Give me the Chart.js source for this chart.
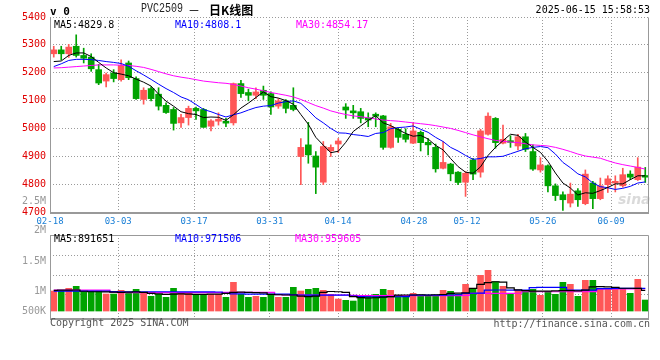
<!DOCTYPE html>
<html><head><meta charset="utf-8">
<script src="https://cdn.jsdelivr.net/npm/chart.js@4.4.1/dist/chart.umd.min.js"></script>
<style>
html,body{margin:0;padding:0;background:#fff;width:660px;height:360px;overflow:hidden;}
#wrap{position:relative;width:660px;height:360px;background:#fff;}
canvas{position:absolute;left:0;}
#c1{top:0;}
#c2{top:232px;}
.t{position:absolute;white-space:pre;font-family:"DejaVu Sans Mono",monospace;font-size:10px;line-height:10px;}
.r{text-align:right;}
</style></head><body>
<div id="wrap">
<canvas id="c1" width="660" height="232"></canvas>
<canvas id="c2" width="660" height="88"></canvas>
<div class="t" style="left:50px;top:6px;font-size:11px;font-weight:bold;line-height:11px;">v 0</div>
<div class="t" style="left:141px;top:3px;font-family:'Liberation Mono',monospace;font-size:10px;line-height:10px;color:#222;transform:scaleY(1.3);transform-origin:0 0;">PVC2509</div>
<div class="t" style="left:188px;top:3px;font-family:'Noto Sans CJK SC',sans-serif;font-size:12px;line-height:13px;">－</div>
<div class="t" style="left:209px;top:3px;font-family:'Noto Sans CJK SC',sans-serif;font-size:12px;line-height:13px;font-weight:bold;">日K线图</div>
<div class="t r" style="right:10px;top:5px;">2025-06-15 15:58:53</div>
<div class="t" style="left:54px;top:20px;color:#000;">MA5:4829.8</div>
<div class="t" style="left:175px;top:20px;color:#0000ff;">MA10:4808.1</div>
<div class="t" style="left:296px;top:20px;color:#ff00ff;">MA30:4854.17</div>
<div class="t" style="left:54px;top:234px;color:#000;">MA5:891651</div>
<div class="t" style="left:175px;top:234px;color:#0000ff;">MA10:971506</div>
<div class="t" style="left:295px;top:234px;color:#ff00ff;">MA30:959605</div>
<div class="t r" style="right:614px;top:196px;color:#999;">2.5M</div>
<div class="t r" style="right:614px;top:225px;color:#999;">2M</div>
<div class="t r" style="right:614px;top:256px;color:#999;">1.5M</div>
<div class="t r" style="right:614px;top:286px;color:#999;">1M</div>
<div class="t r" style="right:614px;top:306px;color:#999;">500K</div>
<div class="t" style="left:50px;top:318px;color:#555;">Copyright 2025 SINA.COM</div>
<div class="t r" style="right:10px;top:319px;color:#555;">http://finance.sina.com.cn</div>
<div class="t" style="left:618px;top:192px;font-family:'DejaVu Sans',sans-serif;font-size:14px;line-height:14px;font-style:italic;font-weight:bold;color:rgba(150,150,150,0.35);">sina</div>
</div>
<script>
// ---- data ----
const dateLabels = ['02-18','03-03','03-17','03-31','04-14','04-28','05-12','05-26','06-09'];
const dateIndex  = [0,9,19,29,38,48,55,65,74];
const open  = [5268,5282,5268,5295,5262,5256,5211,5170,5199,5175,5235,5179,5104,5143,5123,5083,5068,5020,5039,5072,
               5068,5008,5026,5026,5020,5161,5129,5119,5137,5125,5080,5099,5083,4899,4941,4901,4807,4920,4944,5077,
               5063,5060,5038,5051,5045,4932,4997,4979,4947,4986,4950,4932,4857,4872,4843,4807,4887,4843,4979,5036,
               4947,4956,4937,4970,4917,4851,4866,4794,4762,4732,4776,4730,4804,4748,4798,4804,4794,4836,4816,4831];
const high  = [5295,5295,5302,5336,5288,5268,5230,5199,5211,5246,5242,5185,5146,5149,5146,5092,5075,5051,5080,5077,
               5072,5032,5056,5036,5163,5173,5141,5146,5152,5131,5107,5104,5146,4964,5022,4917,4953,4941,4964,5089,
               5083,5072,5056,5056,5047,5018,5002,4999,5020,4991,4964,4944,4953,4875,4845,4845,4893,4997,5056,5039,
               5012,4974,4979,4982,4941,4895,4869,4801,4772,4804,4784,4851,4810,4822,4830,4830,4857,4848,4895,4860];
const low   = [5256,5246,5255,5256,5235,5205,5157,5149,5167,5170,5175,5104,5087,5099,5066,5054,4994,5004,5012,5032,
               5004,4991,5012,5006,5012,5111,5099,5107,5104,5050,5072,5056,5063,4798,4875,4766,4798,4899,4913,5036,
               5036,5020,5006,5006,4925,4929,4950,4951,4945,4919,4905,4843,4855,4812,4798,4756,4816,4825,4976,4929,
               4944,4932,4923,4917,4849,4843,4772,4741,4706,4718,4720,4726,4712,4744,4770,4772,4789,4816,4813,4806];
const close = [5282,5268,5292,5262,5252,5214,5163,5193,5179,5226,5182,5107,5137,5107,5080,5057,5018,5039,5072,5063,
               5004,5027,5033,5019,5161,5125,5119,5131,5119,5077,5099,5072,5068,4932,4905,4861,4935,4932,4955,5066,
               5056,5036,5030,5044,4932,5006,4968,4961,4991,4949,4941,4855,4878,4837,4806,4839,4836,4991,5044,4949,
               4961,4950,4970,4925,4854,4869,4794,4759,4744,4764,4744,4836,4748,4794,4819,4810,4834,4825,4861,4825];
const ma5   = [5240,5242,5262,5271,5271,5258,5237,5217,5200,5195,5189,5177,5166,5152,5123,5098,5080,5060,5053,5050,
               5039,5041,5040,5029,5049,5073,5091,5111,5131,5114,5109,5100,5087,5050,5015,4968,4940,4913,4918,4950,
               4989,5009,5029,5046,5020,5010,4996,4982,4972,4975,4962,4939,4923,4892,4863,4843,4839,4862,4903,4932,
               4956,4979,4975,4951,4932,4914,4882,4840,4804,4786,4761,4769,4767,4777,4788,4801,4801,4816,4830,4830];
const ma10  = [5222,5232,5244,5248,5248,5247,5244,5240,5237,5233,5223,5207,5192,5176,5159,5143,5129,5113,5103,5086,
               5068,5060,5050,5041,5049,5056,5066,5075,5080,5082,5091,5096,5099,5090,5065,5038,5020,5000,4984,4983,
               4978,4975,4971,4982,4985,4999,5003,5005,5009,4997,4986,4968,4953,4932,4919,4903,4889,4892,4898,4898,
               4900,4909,4918,4927,4932,4935,4931,4908,4878,4859,4837,4826,4804,4791,4787,4781,4785,4792,4804,4808];
const ma30  = [5217,5218,5220,5222,5224,5226,5228,5228,5228,5227,5226,5223,5219,5212,5204,5196,5189,5184,5180,5175,
               5170,5167,5164,5162,5158,5152,5146,5141,5135,5129,5124,5119,5113,5104,5093,5082,5073,5063,5056,5050,
               5045,5042,5038,5034,5030,5028,5026,5023,5020,5017,5014,5010,5005,5000,4993,4985,4977,4970,4963,4957,
               4954,4951,4949,4945,4941,4939,4937,4932,4925,4917,4908,4901,4897,4893,4884,4876,4870,4865,4860,4854];
const volume = [860,860,976,1062,817,860,860,731,731,890,804,933,804,632,718,589,976,804,804,718,
                718,718,718,589,1234,718,589,632,589,718,589,589,1019,860,933,976,890,718,516,460,
                430,645,645,718,933,890,645,645,761,645,645,645,890,847,718,1148,976,1535,1750,1260,
                1062,718,890,890,933,675,847,718,1234,1148,632,1320,1320,976,933,976,933,761,1363,473].map(v=>v*1000);
const volMa5 = [890,895,900,905,850,830,830,820,810,800,810,820,800,760,740,720,730,740,730,720,
                720,730,730,760,800,810,800,790,780,720,700,690,690,640,620,640,800,840,830,800,
                620,580,560,570,600,620,680,690,690,700,690,700,710,760,770,780,976,1150,1220,1260,
                1240,1000,910,880,860,860,860,870,880,880,870,900,1040,1050,1040,1020,980,980,970,892].map(v=>v*1000);
const volMa10 = [860,860,860,860,860,860,860,855,835,830,830,830,830,830,830,828,828,826,826,824,
                 822,820,818,760,740,735,731,731,731,731,731,725,700,690,688,688,688,688,688,688,
                 640,620,615,615,615,615,615,620,680,688,688,688,688,690,700,760,765,770,900,905,
                 905,903,903,903,1010,1019,1019,1019,1019,905,903,903,903,960,965,970,970,972,972,972].map(v=>v*1000);
const volMa30 = [900,900,900,900,900,900,900,895,800,795,790,790,790,790,790,790,790,790,790,790,
                 790,790,790,800,800,800,800,800,800,800,700,690,690,690,690,690,690,690,690,690,
                 670,665,665,665,665,665,665,665,665,665,665,665,665,665,665,670,760,760,760,760,
                 760,760,765,830,830,830,830,830,830,830,830,830,835,945,948,950,952,955,958,960].map(v=>v*1000);

// ---- styling ----
const UP = '#ff5757', DOWN = '#00a300', GRID = '#9a9a9a', FRAME = '#999999';
const MONO = "'DejaVu Sans Mono', monospace";
const labels = close.map((_, i) => String(i));
const candleColor = close.map((c, i) => c >= open[i] ? UP : DOWN);

function framePlugin(id, opts) {
  return {
    id: id,
    afterDraw(chart) {
      const {ctx, chartArea: a} = chart;
      ctx.save();
      ctx.strokeStyle = FRAME;
      ctx.lineWidth = 1;
      ctx.beginPath();
      const L = Math.round(a.left) + 0.5, R = Math.round(a.right) - 0.5;
      const T = Math.round(a.top) + 0.5, B = Math.round(a.bottom) + 0.5;
      ctx.moveTo(L, T); ctx.lineTo(L, B + 1);
      ctx.moveTo(R, T); ctx.lineTo(R, B + 1);
      if (opts.top) { ctx.moveTo(L, T); ctx.lineTo(R, T); }
      ctx.stroke();
      ctx.lineWidth = opts.bottomWidth;
      ctx.beginPath();
      ctx.moveTo(L - 0.5, B + (opts.bottomWidth - 1) / 2); ctx.lineTo(R + 0.5, B + (opts.bottomWidth - 1) / 2);
      ctx.stroke();
      ctx.restore();
    }
  };
}

function gridAxis(showLabels) {
  return {
    type: 'linear', position: 'bottom', min: 0, max: close.length - 1,
    offset: false,
    afterBuildTicks(s) { s.ticks = dateIndex.map(v => ({value: v})); },
    ticks: {
      display: showLabels, autoSkip: false, maxRotation: 0, padding: 4,
      color: '#1a7fd6', font: {family: MONO, size: 9},
      callback: (v) => dateLabels[dateIndex.indexOf(v)]
    },
    grid: {color: GRID, lineWidth: 1, drawTicks: false, offset: false},
    border: {display: false, dash: [1, 2]},
    afterFit(s) { s.height = showLabels ? 20 : 0; }
  };
}

Chart.defaults.font.family = MONO;

new Chart(document.getElementById('c1'), {
  type: 'bar',
  data: {
    labels: labels,
    datasets: [
      {type: 'line', data: ma5,  borderColor: '#000000', borderWidth: 1, pointRadius: 0, tension: 0, order: 0},
      {type: 'line', data: ma10, borderColor: '#0000ff', borderWidth: 1, pointRadius: 0, tension: 0, order: 0},
      {type: 'line', data: ma30, borderColor: '#ff00ff', borderWidth: 1, pointRadius: 0, tension: 0, order: 0},
      {type: 'bar', data: open.map((o, i) => [o, close[i]]), backgroundColor: candleColor,
       barThickness: 6, grouped: false, minBarLength: 1, order: 1},
      {type: 'bar', data: low.map((l, i) => [l, high[i]]), backgroundColor: candleColor,
       barThickness: 1, grouped: false, order: 2}
    ]
  },
  options: {
    responsive: false, animation: false, events: [],
    plugins: {legend: {display: false}, tooltip: {enabled: false}},
    layout: {padding: {top: 17, right: 11, left: 0, bottom: 0}},
    scales: {
      x: {type: 'category', display: false, offset: true},
      xg: gridAxis(true),
      y: {
        min: 4700, max: 5400, position: 'left',
        ticks: {stepSize: 100, color: '#e00000', font: {family: MONO, size: 10}, padding: 4,
                callback: (v) => String(v)},
        grid: {color: GRID, drawTicks: false},
        border: {display: false, dash: [1, 2]},
        afterFit(s) { s.width = 50; }
      }
    }
  },
  plugins: [framePlugin('frameTop', {top: false, bottomWidth: 2})]
});

// volume panel: 0 sits a little above the panel floor, as in the reference
const volMax = 3270000, volMin = -300000;
new Chart(document.getElementById('c2'), {
  type: 'bar',
  data: {
    labels: labels,
    datasets: [
      {type: 'line', data: volMa5,  borderColor: '#000000', borderWidth: 1.2, pointRadius: 0, stepped: 'middle', order: 0},
      {type: 'line', data: volMa10, borderColor: '#0000ff', borderWidth: 1.2, pointRadius: 0, stepped: 'middle', order: 0},
      {type: 'line', data: volMa30, borderColor: '#ff00ff', borderWidth: 1.2, pointRadius: 0, stepped: 'middle', order: 0},
      {type: 'bar', data: volume, backgroundColor: candleColor, barThickness: 6, grouped: false, order: 1}
    ]
  },
  options: {
    responsive: false, animation: false, events: [],
    plugins: {legend: {display: false}, tooltip: {enabled: false}},
    layout: {padding: {top: 3, right: 11, left: 0, bottom: 2}},
    scales: {
      x: {type: 'category', display: false, offset: true},
      xg: gridAxis(false),
      y: {
        min: volMin, max: volMax, position: 'left',
        afterBuildTicks(s) {
          const span = s.max - s.min;
          s.ticks = [1, 2, 3].map(k => ({value: s.max - span * k * 20 / 83}));
        },
        ticks: {display: false},
        grid: {color: GRID, drawTicks: false},
        border: {display: false, dash: [1, 2]},
        afterFit(s) { s.width = 50; }
      }
    }
  },
  plugins: [framePlugin('frameVol', {top: true, bottomWidth: 2})]
});
</script>
</body></html>
